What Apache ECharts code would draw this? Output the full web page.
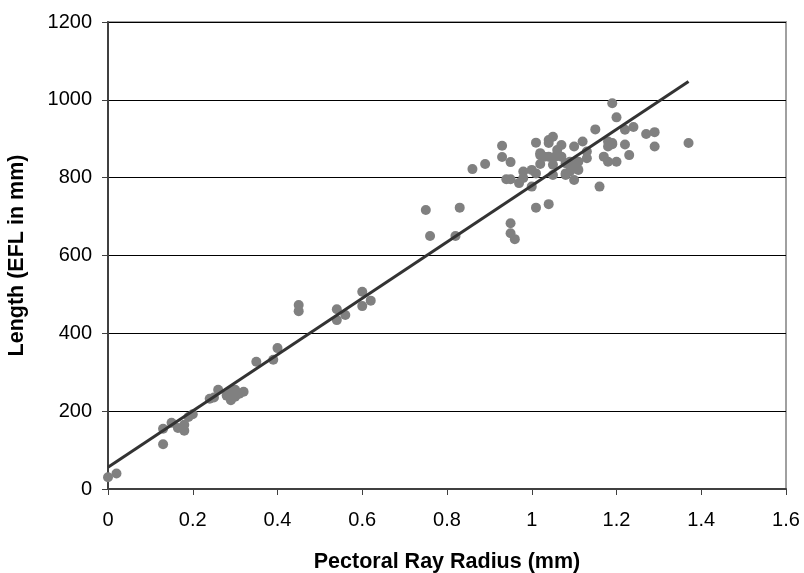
<!DOCTYPE html>
<html>
<head>
<meta charset="utf-8">
<script src="https://cdn.jsdelivr.net/npm/echarts@6/dist/echarts.min.js"></script>
<style>html,body{margin:0;padding:0;background:#fff}#c{width:804px;height:573px}</style>
</head>
<body>
<div id="c"></div>
<script>
const xValues = [0.0,0.02,0.13,0.13,0.15,0.165,0.18,0.18,0.19,0.2,
0.24,0.25,0.26,0.28,0.29,0.29,0.30,0.30,0.31,0.32,
0.35,0.39,0.40,0.45,0.45,0.54,0.54,0.56,0.60,0.60,0.62,
0.75,0.76,0.82,0.83,0.86,0.89,
0.93,0.93,0.94,0.95,0.95,0.95,0.95,0.96,
0.97,0.98,0.98,1.0,1.0,1.01,1.01,1.01,1.02,1.02,1.02,1.03,1.04,1.04,1.04,1.04,1.05,1.05,1.05,1.06,1.055,1.07,1.07,1.08,1.08,1.08,1.09,1.09,1.09,1.10,1.10,1.10,1.11,1.11,1.12,1.13,1.13,1.15,1.16,1.17,1.18,1.18,1.18,1.19,1.19,1.19,1.20,1.20,1.22,1.22,1.23,1.24,1.27,1.29,1.29,1.37];
const yValues = [30,40,155,115,170,157,150,165,185,192,
232,235,255,240,228,250,237,255,245,250,
327,332,362,473,457,462,434,447,507,470,484,
717,650,650,723,822,835,
882,853,796,796,840,683,657,642,
786,816,799,777,820,811,890,723,835,858,863,854,889,732,897,854,905,833,807,871,854,884,854,807,837,811,816,841,833,794,824,880,841,820,893,850,867,924,777,854,893,880,841,889,886,991,955,841,923,885,858,930,912,917,880,889];
const trendX = [0, 1.37];
const trendY = [56, 1047];
const xTicks = ['0','0.2','0.4','0.6','0.8','1','1.2','1.4','1.6'];
const yTicks = ['0','200','400','600','800','1000','1200'];

const points = xValues.map((x,i)=>[x,yValues[i]]);
const trend = trendX.map((x,i)=>[x,trendY[i]]);
const font = '"Liberation Sans", Arial, sans-serif';
const chart = echarts.init(document.getElementById('c'), null, {renderer:'canvas'});
chart.setOption({
  animation:false,
  backgroundColor:'#fff',
  grid:{left:108,right:18,top:22,bottom:84,containLabel:false,outerBoundsMode:'none',
    show:true,borderColor:'#a0a0a0',borderWidth:2,backgroundColor:'transparent'},
  xAxis:{type:'value',min:0,max:1.6,interval:0.2,
    name:'Pectoral Ray Radius (mm)',nameLocation:'middle',nameGap:62,
    nameTextStyle:{fontFamily:font,fontSize:21.5,fontWeight:'bold',color:'#000'},
    axisLine:{show:true,lineStyle:{color:'#404040',width:2}},
    axisTick:{show:true,length:6,lineStyle:{color:'#404040',width:1}},
    axisLabel:{fontFamily:font,fontSize:20,color:'#000',margin:21,
      formatter:(v)=>xTicks[Math.round(v/0.2)]},
    splitLine:{show:false}},
  yAxis:{type:'value',min:0,max:1200,interval:200,
    name:'Length (EFL in mm)',nameLocation:'middle',nameGap:80,
    nameTextStyle:{fontFamily:font,fontSize:21.5,fontWeight:'bold',color:'#000'},
    axisLine:{show:true,lineStyle:{color:'#404040',width:2}},
    axisTick:{show:true,length:6,lineStyle:{color:'#404040',width:1}},
    axisLabel:{fontFamily:font,fontSize:20,color:'#000',margin:16,
      formatter:(v)=>yTicks[Math.round(v/200)]},
    splitLine:{show:true,lineStyle:{color:'#000',width:1}}},
  series:[
    {type:'scatter',data:points,symbol:'circle',symbolSize:10,
      itemStyle:{color:'#808080',opacity:1},z:3},
    {type:'line',data:trend,symbol:'none',lineStyle:{color:'#333333',width:3},z:4}
  ]
});
</script>
</body>
</html>
